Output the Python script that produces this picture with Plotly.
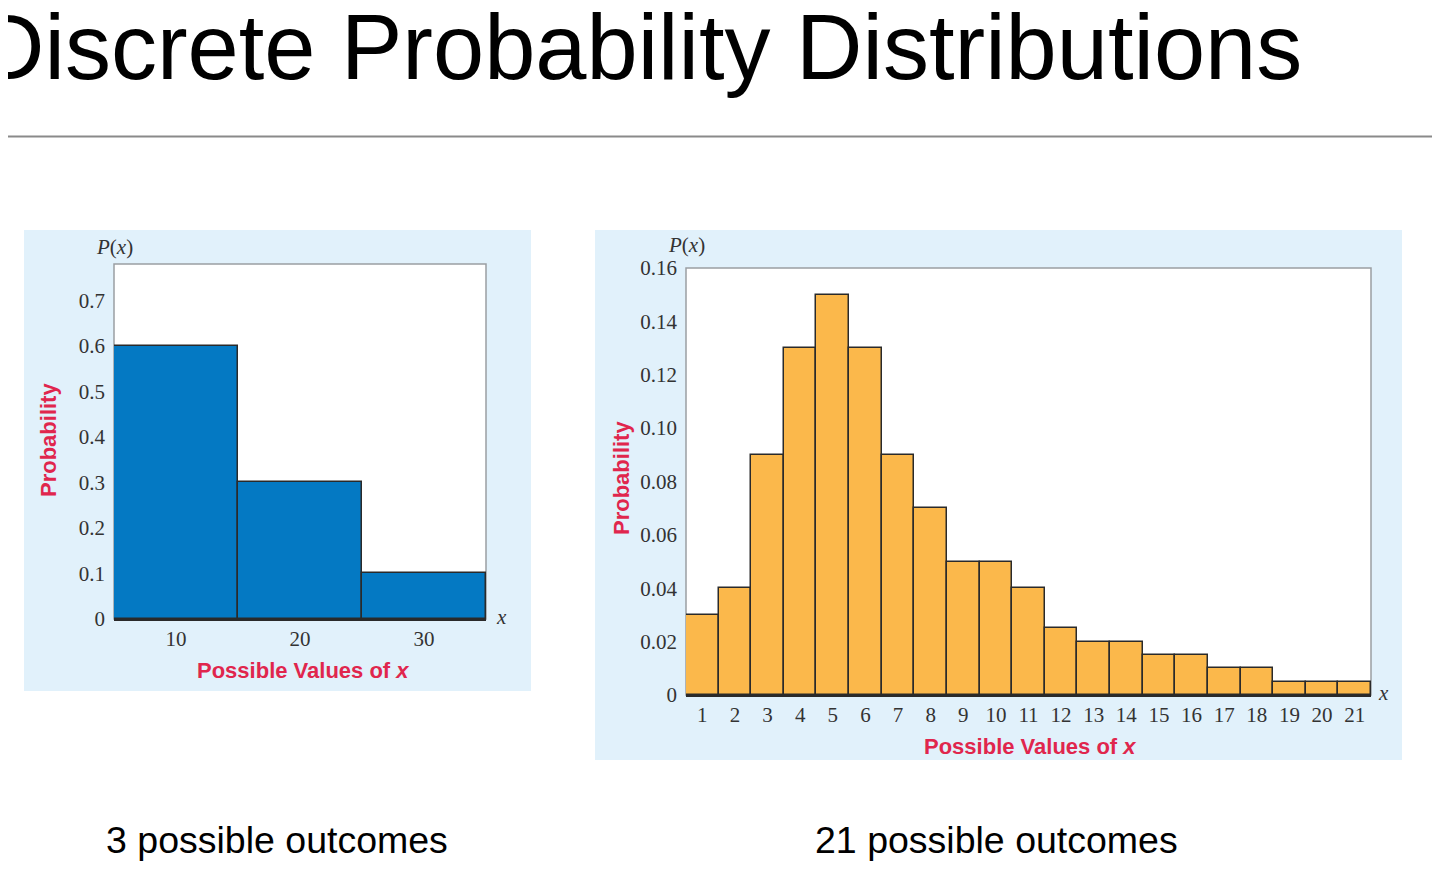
import plotly.graph_objects as go

# ── data ──────────────────────────────────────────────────────────────────────
left_x = [10, 20, 30]
left_p = [0.6, 0.3, 0.1]
left_yticks = [0, 0.1, 0.2, 0.3, 0.4, 0.5, 0.6, 0.7]
left_yticktext = ["0", "0.1", "0.2", "0.3", "0.4", "0.5", "0.6", "0.7"]

right_x = list(range(1, 22))
right_p = [0.03, 0.04, 0.09, 0.13, 0.15, 0.13, 0.09, 0.07, 0.05, 0.05, 0.04,
           0.025, 0.02, 0.02, 0.015, 0.015, 0.01, 0.01, 0.005, 0.005, 0.005]
right_yticks = [0, 0.02, 0.04, 0.06, 0.08, 0.10, 0.12, 0.14, 0.16]
right_yticktext = ["0", "0.02", "0.04", "0.06", "0.08", "0.10", "0.12", "0.14", "0.16"]

TITLE = "Discrete Probability Distributions"
CAPTIONS = ["3 possible outcomes", "21 possible outcomes"]

# ── style ─────────────────────────────────────────────────────────────────────
W, H = 1440, 875
OFF = 8  # page body margin the figure sits inside
BLUE = "#0479c3"
ORANGE = "#fbb84b"
PANEL = "#e1f1fb"
RED = "#e0264d"
EDGE = "#2a2a2a"
FRAME = "#9a9ea3"
TICK_FONT = dict(family="Liberation Serif", size=21, color="#333333")


def px(x):
    # screen pixel -> paper fraction
    return (x - OFF) / W


def py(y):
    return 1 - (y - OFF) / H


fig = go.Figure()

fig.add_trace(go.Bar(
    x=left_x, y=left_p, width=10,
    marker=dict(color=BLUE, line=dict(color=EDGE, width=1.5)),
    xaxis="x", yaxis="y", showlegend=False, hoverinfo="x+y",
))
fig.add_trace(go.Bar(
    x=right_x, y=right_p, width=1,
    marker=dict(color=ORANGE, line=dict(color=EDGE, width=1.5)),
    xaxis="x2", yaxis="y2", showlegend=False, hoverinfo="x+y",
))

axis_common = dict(showgrid=False, zeroline=False, ticks="", fixedrange=True,
                   tickfont=TICK_FONT, layer="below traces", automargin=False)

fig.update_layout(
    width=W, height=H,
    margin=dict(l=0, r=0, t=0, b=0, pad=0, autoexpand=False),
    paper_bgcolor="white", plot_bgcolor="white",
    bargap=0,
    xaxis=dict(domain=[px(114), px(486)], range=[5, 35],
               tickvals=left_x, anchor="y",
               showline=True, linecolor=EDGE, linewidth=1.5, **axis_common),
    yaxis=dict(domain=[py(619), py(264)], range=[0, 0.78],
               tickvals=left_yticks, ticktext=left_yticktext, anchor="x",
               showline=False, ticklabelstandoff=8, **axis_common),
    xaxis2=dict(domain=[px(686), px(1371)], range=[0.5, 21.5],
                tickvals=right_x, anchor="y2",
                showline=True, linecolor=EDGE, linewidth=1.5, **axis_common),
    yaxis2=dict(domain=[py(695), py(268)], range=[0, 0.16],
                tickvals=right_yticks, ticktext=right_yticktext, anchor="x2",
                showline=False, ticklabelstandoff=8, **axis_common),
)

shapes = [
    # light-blue panels behind each chart
    dict(type="rect", xref="paper", yref="paper", layer="below",
         x0=px(24), x1=px(531), y0=py(691), y1=py(230),
         fillcolor=PANEL, line=dict(width=0)),
    dict(type="rect", xref="paper", yref="paper", layer="below",
         x0=px(595), x1=px(1402), y0=py(760), y1=py(230),
         fillcolor=PANEL, line=dict(width=0)),
    # white plot frames with grey borders
    dict(type="rect", xref="x domain", yref="y domain", layer="below",
         x0=0, x1=1, y0=0, y1=1, fillcolor="white",
         line=dict(color=FRAME, width=1.5)),
    dict(type="rect", xref="x2 domain", yref="y2 domain", layer="below",
         x0=0, x1=1, y0=0, y1=1, fillcolor="white",
         line=dict(color=FRAME, width=1.5)),
    # rule under the title
    dict(type="line", xref="paper", yref="paper",
         x0=0, x1=1, y0=py(136.5), y1=py(136.5),
         line=dict(color="#8a8a8a", width=2)),
]

serif_it = dict(family="Liberation Serif", size=21, color="#333333")
red_bold = dict(family="Liberation Sans", size=22, color=RED)
caption_font = dict(family="Liberation Sans", size=37.5, color="black")

annotations = [
    dict(text=TITLE, xref="paper", yref="paper", x=px(1304), y=py(47),
         xanchor="right", yanchor="middle", showarrow=False,
         font=dict(family="Liberation Sans", size=92, color="black")),
    dict(text=CAPTIONS[0], xref="paper", yref="paper", x=px(277), y=py(840),
         xanchor="center", yanchor="middle", showarrow=False, font=caption_font),
    dict(text=CAPTIONS[1], xref="paper", yref="paper", x=px(996), y=py(840),
         xanchor="center", yanchor="middle", showarrow=False, font=caption_font),
    # left chart labels
    dict(text="<i>P</i>(<i>x</i>)", xref="paper", yref="paper", x=px(114), y=py(247),
         xanchor="center", yanchor="middle", showarrow=False, font=serif_it),
    dict(text="<i>x</i>", xref="paper", yref="paper", x=px(501), y=py(617),
         xanchor="center", yanchor="middle", showarrow=False, font=serif_it),
    dict(text="<b>Probability</b>", xref="paper", yref="paper", x=px(48), y=py(440),
         xanchor="center", yanchor="middle", textangle=-90, showarrow=False,
         font=red_bold),
    dict(text="<b>Possible Values of <i>x</i></b>", xref="paper", yref="paper",
         x=px(303), y=py(670), xanchor="center", yanchor="middle",
         showarrow=False, font=red_bold),
    # right chart labels
    dict(text="<i>P</i>(<i>x</i>)", xref="paper", yref="paper", x=px(686), y=py(245),
         xanchor="center", yanchor="middle", showarrow=False, font=serif_it),
    dict(text="<i>x</i>", xref="paper", yref="paper", x=px(1383), y=py(693),
         xanchor="center", yanchor="middle", showarrow=False, font=serif_it),
    dict(text="<b>Probability</b>", xref="paper", yref="paper", x=px(621), y=py(478),
         xanchor="center", yanchor="middle", textangle=-90, showarrow=False,
         font=red_bold),
    dict(text="<b>Possible Values of <i>x</i></b>", xref="paper", yref="paper",
         x=px(1030), y=py(746), xanchor="center", yanchor="middle",
         showarrow=False, font=red_bold),
]

fig.update_layout(shapes=shapes, annotations=annotations)

fig.write_html("out.html")
